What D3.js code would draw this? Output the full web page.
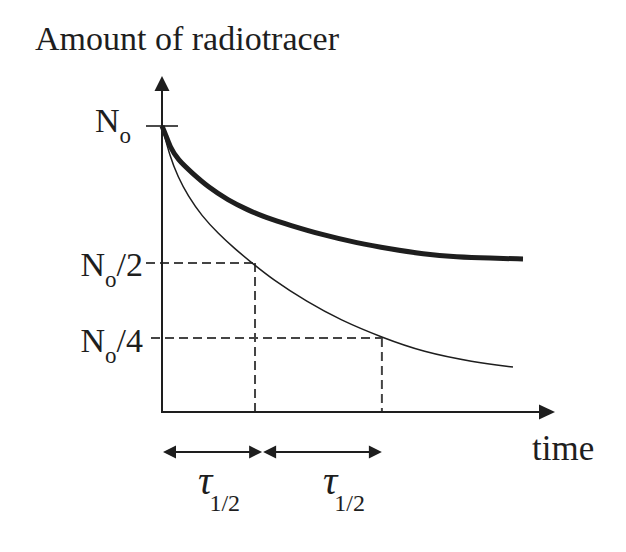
<!DOCTYPE html>
<html>
<head>
<meta charset="utf-8">
<script src="https://cdn.jsdelivr.net/npm/d3@7"></script>
<style>
  html, body { margin: 0; padding: 0; background: #fff; }
  svg { display: block; }
  text { font-family: "Liberation Serif", "Times New Roman", serif; fill: #1e1e1e; }
</style>
</head>
<body>
<script>
// ---- data (time in half-life-ish units, amount as fraction of N0) ----
const thinTime  = [0, 0.085, 0.171, 0.278, 0.427, 0.598, 0.780, 0.940, 1.186, 1.550, 1.902, 2.362, 2.789, 3.324, 3.751];
const thinAmt   = [1, 0.892, 0.822, 0.755, 0.685, 0.625, 0.570, 0.527, 0.462, 0.385, 0.322, 0.259, 0.210, 0.175, 0.157];
const thickTime = [0, 0.032, 0.085, 0.171, 0.321, 0.492, 0.705, 0.919, 1.101, 1.368, 1.721, 2.084, 2.437, 2.789, 3.153, 3.505, 3.858];
const thickAmt  = [1, 0.976, 0.927, 0.881, 0.836, 0.787, 0.741, 0.706, 0.681, 0.653, 0.619, 0.591, 0.570, 0.552, 0.542, 0.538, 0.535];
const levelValues = [1, 0.521, 0.259];          // N0, N0/2, N0/4
const levelSuffix = ["", "/2", "/4"];
const markTimes   = [0.994, 2.35];              // dashed vertical guides
const tauArrows   = [[0, 1.07], [1.07, 2.35]];  // half-life arrows
const tauLabelAt  = [0.61, 1.945];
const yTitle = "Amount of radiotracer";
const xTitle = "time";

const W = 626, H = 552;
const svg = d3.select("body").append("svg").attr("width", W).attr("height", H);
svg.append("rect").attr("width", W).attr("height", H).attr("fill", "#fff");

const x = d3.scaleLinear().domain([0, 4.2]).range([162, 555]);
const y = d3.scaleLinear().domain([0, 1]).range([412, 126]);
const ink = "#1e1e1e", dashInk = "#444";

// dashed guides
levelValues.slice(1).forEach((v, i) => {
  svg.append("line")
    .attr("x1", i === 0 ? 146 : 151).attr("x2", x(markTimes[i]))
    .attr("y1", y(v)).attr("y2", y(v))
    .attr("stroke", dashInk).attr("stroke-width", 2).attr("stroke-dasharray", "9,5");
  svg.append("line")
    .attr("x1", x(markTimes[i])).attr("x2", x(markTimes[i]))
    .attr("y1", y(v)).attr("y2", y(0))
    .attr("stroke", dashInk).attr("stroke-width", 2).attr("stroke-dasharray", "9,5");
});

// axes
svg.append("line").attr("x1", x(0)).attr("x2", x(0)).attr("y1", y(0)).attr("y2", 88)
  .attr("stroke", ink).attr("stroke-width", 2);
svg.append("path").attr("d", `M${x(0)},76 L${x(0)-7.5},91 L${x(0)+7.5},91 Z`).attr("fill", ink);
svg.append("line").attr("x1", x(0) - 1).attr("x2", 541).attr("y1", y(0)).attr("y2", y(0))
  .attr("stroke", ink).attr("stroke-width", 2);
svg.append("path").attr("d", `M555,${y(0)} L539,${y(0)-7.5} L539,${y(0)+7.5} Z`).attr("fill", ink);

// N0 tick
svg.append("line").attr("x1", 146).attr("x2", 178).attr("y1", y(1)).attr("y2", y(1))
  .attr("stroke", ink).attr("stroke-width", 1.6);

// curves
const line = d3.line().x(d => x(d[0])).y(d => y(d[1])).curve(d3.curveBasis);
svg.append("path").datum(thinTime.map((t, i) => [t, thinAmt[i]]))
  .attr("d", line).attr("fill", "none").attr("stroke", ink).attr("stroke-width", 1.5);
svg.append("path").datum(thickTime.map((t, i) => [t, thickAmt[i]]))
  .attr("d", line).attr("fill", "none").attr("stroke", ink).attr("stroke-width", 5);

// level labels
levelValues.forEach((v, i) => {
  const t = svg.append("text").attr("font-size", 34);
  if (i === 0) t.attr("x", 95).attr("y", y(v) + 6);
  else t.attr("x", 143).attr("y", y(v) + 13 + (i - 1) * 1.5).attr("text-anchor", "end");
  t.append("tspan").text("N");
  t.append("tspan").attr("font-size", 23).attr("dy", 11).text("o");
  if (levelSuffix[i]) t.append("tspan").attr("dy", -11).text(levelSuffix[i]);
});

// titles
svg.append("text").attr("x", 35).attr("y", 50).attr("font-size", 34).text(yTitle);
svg.append("text").attr("x", 532).attr("y", 460).attr("font-size", 35).text(xTitle);

// half-life arrows
const ay = 452, ah = 13, aw = 6.5;
tauArrows.forEach(([a, b]) => {
  const x1 = x(a) + 1, x2 = x(b);
  svg.append("line").attr("x1", x1 + ah - 2).attr("x2", x2 - ah + 2).attr("y1", ay).attr("y2", ay)
    .attr("stroke", ink).attr("stroke-width", 2);
  svg.append("path").attr("d", `M${x1},${ay} L${x1+ah},${ay-aw} L${x1+ah},${ay+aw} Z`).attr("fill", ink);
  svg.append("path").attr("d", `M${x2},${ay} L${x2-ah},${ay-aw} L${x2-ah},${ay+aw} Z`).attr("fill", ink);
});
tauLabelAt.forEach(t => {
  const tx = svg.append("text").attr("x", x(t)).attr("y", 494).attr("text-anchor", "middle");
  tx.append("tspan").attr("font-size", 40).attr("font-style", "italic").text("τ");
  tx.append("tspan").attr("font-size", 24).attr("dx", -3).attr("dy", 17).text("1/2");
});
</script>
</body>
</html>
